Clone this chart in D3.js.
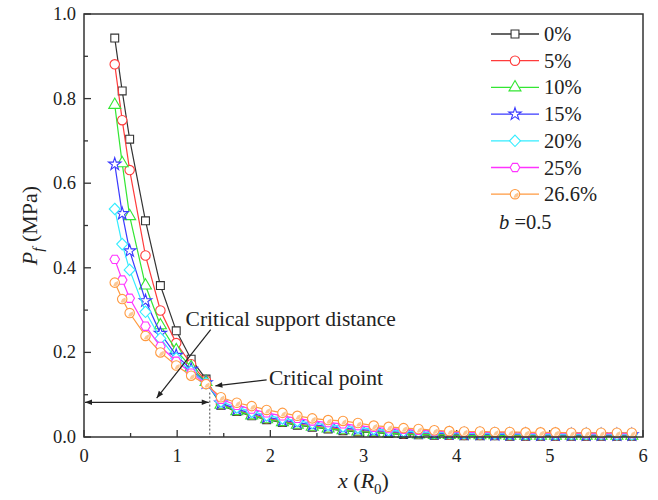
<!DOCTYPE html>
<html>
<head>
<meta charset="utf-8">
<script src="https://cdn.jsdelivr.net/npm/d3@7"></script>
<style>
    body { margin: 0; background: #fff; }
    text { font-family: "Liberation Serif", "Times New Roman", serif; fill: #222; }
</style>
</head>
<body>
<div id="chart"></div>
<script>
// x positions (R0)
const xs = [0.33, 0.41, 0.49, 0.66, 0.82, 0.99, 1.15, 1.31, 1.47, 1.64, 1.80, 1.96, 2.13, 2.29, 2.45, 2.62, 2.78, 2.94,
    3.11, 3.27, 3.43, 3.59, 3.76, 3.92, 4.08, 4.25, 4.41, 4.57, 4.74, 4.90, 5.06, 5.23, 5.39, 5.55, 5.72, 5.88];

const p0 = [0.943, 0.818, 0.704, 0.511, 0.358, 0.251, 0.184, 0.137, 0.075, 0.060, 0.050, 0.041, 0.034, 0.028, 0.023, 0.019, 0.015, 0.012,
    0.010, 0.008, 0.006, 0.005, 0.004, 0.004, 0.003, 0.003, 0.003, 0.002, 0.002, 0.002, 0.002, 0.002, 0.002, 0.002, 0.002, 0.002];
const p5 = [0.881, 0.749, 0.631, 0.429, 0.299, 0.222, 0.172, 0.133, 0.078, 0.063, 0.053, 0.044, 0.037, 0.031, 0.026, 0.022, 0.018, 0.015,
    0.013, 0.011, 0.009, 0.008, 0.007, 0.006, 0.005, 0.005, 0.005, 0.004, 0.004, 0.004, 0.004, 0.004, 0.004, 0.004, 0.004, 0.004];
const p10 = [0.785, 0.647, 0.522, 0.358, 0.264, 0.205, 0.165, 0.130, 0.076, 0.061, 0.051, 0.042, 0.035, 0.029, 0.024, 0.020, 0.016, 0.013,
    0.011, 0.009, 0.007, 0.006, 0.005, 0.005, 0.004, 0.004, 0.004, 0.003, 0.003, 0.003, 0.003, 0.003, 0.003, 0.003, 0.003, 0.003];
const p15 = [0.645, 0.528, 0.440, 0.322, 0.245, 0.193, 0.160, 0.128, 0.080, 0.066, 0.056, 0.047, 0.040, 0.034, 0.029, 0.025, 0.021, 0.018,
    0.015, 0.013, 0.011, 0.010, 0.009, 0.008, 0.007, 0.007, 0.006, 0.006, 0.006, 0.005, 0.005, 0.005, 0.005, 0.005, 0.005, 0.005];
const p20 = [0.539, 0.456, 0.395, 0.296, 0.233, 0.186, 0.155, 0.127, 0.084, 0.070, 0.060, 0.051, 0.044, 0.038, 0.033, 0.029, 0.025, 0.022,
    0.019, 0.016, 0.014, 0.012, 0.011, 0.010, 0.009, 0.009, 0.008, 0.008, 0.007, 0.007, 0.007, 0.007, 0.007, 0.007, 0.006, 0.006];
const p25 = [0.420, 0.371, 0.328, 0.262, 0.214, 0.179, 0.151, 0.126, 0.089, 0.075, 0.066, 0.057, 0.050, 0.044, 0.038, 0.034, 0.031, 0.027,
    0.023, 0.020, 0.018, 0.016, 0.014, 0.012, 0.011, 0.011, 0.010, 0.010, 0.009, 0.009, 0.009, 0.009, 0.008, 0.008, 0.008, 0.008];
const p266 = [0.365, 0.326, 0.293, 0.239, 0.200, 0.169, 0.145, 0.125, 0.094, 0.081, 0.073, 0.064, 0.057, 0.050, 0.044, 0.040, 0.038, 0.033,
    0.027, 0.024, 0.021, 0.019, 0.016, 0.014, 0.013, 0.013, 0.012, 0.012, 0.011, 0.011, 0.011, 0.010, 0.010, 0.010, 0.010, 0.010];

const seriesNames = ['0%', '5%', '10%', '15%', '20%', '25%', '26.6%'];
const seriesValues = [p0, p5, p10, p15, p20, p25, p266];
const colors = ['#333333', '#ff3b3b', '#33e633', '#3a3aff', '#33ecff', '#ff33ff', '#ff9a40'];
const markers = ['square', 'circle', 'triangle', 'star', 'diamond', 'hexagon', 'circleHalf'];

const xTicks = [0, 1, 2, 3, 4, 5, 6];
const yTicks = [0.0, 0.2, 0.4, 0.6, 0.8, 1.0];

const width = 658, height = 500;
const margin = { left: 84, right: 15, top: 14, bottom: 63 };

const svg = d3.select('#chart').append('svg')
    .attr('width', width)
    .attr('height', height);

const x = d3.scaleLinear().domain([0, 6]).range([margin.left, width - margin.right]);
const y = d3.scaleLinear().domain([0, 1]).range([height - margin.bottom, margin.top]);

// custom shapes
const hexagon = {
    draw(ctx, size) {
        const r = Math.sqrt(size / 2.598);
        for (let i = 0; i < 6; i++) {
            const a = Math.PI / 3 * i;
            const px = r * Math.cos(a), py = r * Math.sin(a);
            i === 0 ? ctx.moveTo(px, py) : ctx.lineTo(px, py);
        }
        ctx.closePath();
    }
};
const rhombus = {
    draw(ctx, size) {
        const r = Math.sqrt(size / 2);
        ctx.moveTo(0, -r * 1.05);
        ctx.lineTo(r, 0);
        ctx.lineTo(0, r * 1.05);
        ctx.lineTo(-r, 0);
        ctx.closePath();
    }
};

function markerPath(type) {
    if (type === 'square') return d3.symbol(d3.symbolSquare, 62)();
    if (type === 'circle' || type === 'circleHalf') return d3.symbol(d3.symbolCircle, 70)();
    if (type === 'triangle') return d3.symbol(d3.symbolTriangle, 62)();
    if (type === 'star') return d3.symbol(d3.symbolStar, 48)();
    if (type === 'diamond') return d3.symbol(rhombus, 60)();
    if (type === 'hexagon') return d3.symbol(hexagon, 60)();
}

function drawMarker(g, type, color) {
    g.append('path')
        .attr('d', markerPath(type))
        .attr('fill', '#fff')
        .attr('stroke', color)
        .attr('stroke-width', 1.1);
    if (type === 'circleHalf') {
        // pale lower-right shading of the 26.6% marker
        g.append('path')
            .attr('d', d3.arc()({ innerRadius: 0, outerRadius: 3.6, startAngle: Math.PI * 0.35, endAngle: Math.PI * 1.15 }))
            .attr('fill', '#fcc894');
    }
}

// ticks (inside)
const axisColor = '#333';
const gAxes = svg.append('g');

gAxes.selectAll('.ymaj').data(yTicks).enter().append('line')
    .attr('x1', x(0)).attr('x2', x(0) + 7)
    .attr('y1', d => y(d)).attr('y2', d => y(d))
    .attr('stroke', axisColor).attr('stroke-width', 1.3);
gAxes.selectAll('.ymin').data(d3.range(0.1, 1, 0.2)).enter().append('line')
    .attr('x1', x(0)).attr('x2', x(0) + 4)
    .attr('y1', d => y(d)).attr('y2', d => y(d))
    .attr('stroke', axisColor).attr('stroke-width', 1.3);
gAxes.selectAll('.xmaj').data(xTicks).enter().append('line')
    .attr('x1', d => x(d)).attr('x2', d => x(d))
    .attr('y1', y(0)).attr('y2', y(0) - 7)
    .attr('stroke', axisColor).attr('stroke-width', 1.3);
gAxes.selectAll('.xmin').data(d3.range(0.5, 6, 1)).enter().append('line')
    .attr('x1', d => x(d)).attr('x2', d => x(d))
    .attr('y1', y(0)).attr('y2', y(0) - 4)
    .attr('stroke', axisColor).attr('stroke-width', 1.3);

gAxes.selectAll('.ylab').data(yTicks).enter().append('text')
    .attr('x', x(0) - 8)
    .attr('y', d => y(d) + 6)
    .attr('text-anchor', 'end')
    .attr('font-size', 18.5)
    .text(d => d.toFixed(1));
gAxes.selectAll('.xlab').data(xTicks).enter().append('text')
    .attr('x', d => x(d))
    .attr('y', y(0) + 25)
    .attr('text-anchor', 'middle')
    .attr('font-size', 18.5)
    .text(d => d);

// axis titles
const yTitle = svg.append('text')
    .attr('transform', `translate(37, ${(y(0) + y(1)) / 2}) rotate(-90)`)
    .attr('text-anchor', 'middle')
    .attr('font-size', 22);
yTitle.append('tspan').attr('font-style', 'italic').text('P');
yTitle.append('tspan').attr('font-style', 'italic').attr('font-size', 15).attr('dy', 6).text('f');
yTitle.append('tspan').attr('dy', -6).text(' (MPa)');

const xTitle = svg.append('text')
    .attr('x', (x(0) + x(6)) / 2)
    .attr('y', y(0) + 51)
    .attr('text-anchor', 'middle')
    .attr('font-size', 22);
xTitle.append('tspan').attr('font-style', 'italic').text('x');
xTitle.append('tspan').text(' (');
xTitle.append('tspan').attr('font-style', 'italic').text('R');
xTitle.append('tspan').attr('font-size', 15).attr('dy', 6).text('0');
xTitle.append('tspan').attr('dy', -6).text(')');

// series
const line = d3.line().x(d => x(d[0])).y(d => y(d[1]));

seriesValues.forEach((vals, i) => {
    const pts = xs.map((xv, j) => [xv, vals[j]]);
    const g = svg.append('g');
    g.append('path')
        .attr('d', line(pts))
        .attr('fill', 'none')
        .attr('stroke', colors[i])
        .attr('stroke-width', 1.2);
    pts.forEach(p => {
        const m = g.append('g').attr('transform', `translate(${x(p[0])},${y(p[1])})`);
        drawMarker(m, markers[i], colors[i]);
    });
});

// frame
svg.append('rect')
    .attr('x', x(0)).attr('y', y(1))
    .attr('width', x(6) - x(0)).attr('height', y(0) - y(1))
    .attr('fill', 'none')
    .attr('stroke', axisColor)
    .attr('stroke-width', 1.5);

// legend
const legend = svg.append('g');
seriesNames.forEach((name, i) => {
    const ly = 34 + i * 26.7;
    legend.append('line')
        .attr('x1', 491).attr('x2', 539)
        .attr('y1', ly).attr('y2', ly)
        .attr('stroke', colors[i]).attr('stroke-width', 1.3);
    const m = legend.append('g').attr('transform', `translate(515,${ly})`);
    drawMarker(m, markers[i], colors[i]);
    legend.append('text')
        .attr('x', 544).attr('y', ly + 7)
        .attr('font-size', 20.5)
        .text(name);
});
const bText = legend.append('text').attr('x', 499).attr('y', 34 + 7 * 26.7 + 8).attr('font-size', 20.5);
bText.append('tspan').attr('font-style', 'italic').text('b');
bText.append('tspan').text(' =0.5');

// annotations
const defs = svg.append('defs');
defs.append('marker')
    .attr('id', 'arrow')
    .attr('viewBox', '0 -5 10 10')
    .attr('refX', 10).attr('refY', 0)
    .attr('markerWidth', 9).attr('markerHeight', 7)
    .attr('markerUnits', 'userSpaceOnUse')
    .attr('orient', 'auto-start-reverse')
    .append('path')
    .attr('d', 'M0,-4L10,0L0,4Z')
    .attr('fill', '#222');

const critX = 1.35;
svg.append('line')
    .attr('x1', x(critX)).attr('x2', x(critX))
    .attr('y1', y(0.105)).attr('y2', y(0))
    .attr('stroke', '#444').attr('stroke-width', 1)
    .attr('stroke-dasharray', '2,2');

svg.append('line')
    .attr('x1', x(0) + 1).attr('x2', x(critX) - 1)
    .attr('y1', y(0.082)).attr('y2', y(0.082))
    .attr('stroke', '#222').attr('stroke-width', 1.2)
    .attr('marker-start', 'url(#arrow)')
    .attr('marker-end', 'url(#arrow)');

svg.append('line')
    .attr('x1', x(1.36)).attr('y1', y(0.254))
    .attr('x2', x(0.78)).attr('y2', y(0.092))
    .attr('stroke', '#222').attr('stroke-width', 1.2)
    .attr('marker-end', 'url(#arrow)');

svg.append('line')
    .attr('x1', x(1.96)).attr('y1', y(0.135))
    .attr('x2', x(1.41)).attr('y2', y(0.121))
    .attr('stroke', '#222').attr('stroke-width', 1.2)
    .attr('marker-end', 'url(#arrow)');

svg.append('text')
    .attr('x', x(1.09)).attr('y', y(0.262))
    .attr('font-size', 21.5)
    .text('Critical support distance');
svg.append('text')
    .attr('x', x(1.985)).attr('y', y(0.123))
    .attr('font-size', 21.5)
    .text('Critical point');
</script>
</body>
</html>
